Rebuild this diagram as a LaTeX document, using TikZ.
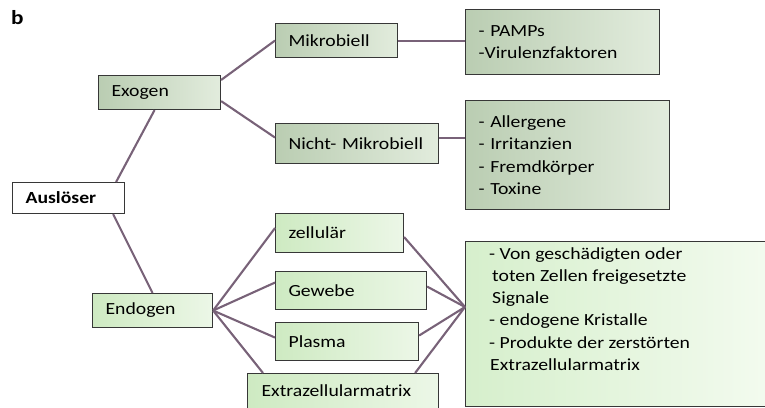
\documentclass[tikz,border=0pt]{standalone}
\usepackage{fontspec}
\setmainfont{Carlito}[FakeStretch=1.16]
\newcommand\bxfont{\fontsize{17}{22.3}\selectfont}
\definecolor{dkL}{RGB}{186,205,178}
\definecolor{dkR}{RGB}{226,236,221}
\definecolor{ltL}{RGB}{206,234,194}
\definecolor{ltR}{RGB}{236,247,231}
\definecolor{bigL}{RGB}{214,239,204}
\definecolor{bigR}{RGB}{243,251,239}
\definecolor{boxline}{RGB}{55,55,55}
\definecolor{conncol}{RGB}{120,98,120}
\begin{document}
\begin{tikzpicture}[x=1pt,y=-1pt]
\useasboundingbox (0,0) rectangle (765,407);
\tikzset{
  base/.style={draw=boxline, line width=1.1pt, anchor=north west, inner xsep=13pt, inner ysep=0pt, align=left, font=\bxfont},
  dark/.style={base, left color=dkL, right color=dkR},
  light/.style={base, left color=ltL, right color=ltR},
  conn/.style={draw=conncol, line width=2.1pt},
}
\node[font=\fontsize{20}{20}\selectfont\bfseries, anchor=north west, inner sep=0pt] (lbl) at (11,10) {b};
% top group
\node[dark, text width=96pt, minimum height=34pt] (exo) at (98,75) {Exogen};
\node[dark, text width=96pt, minimum height=34pt] (mik) at (275,23) {Mikrobiell};
\node[dark, text width=137pt, minimum height=40pt] (nicht) at (275,123) {Nicht- Mikrobiell};
\node[dark, text width=168pt, minimum height=65pt] (pamps) at (465,9) {- PAMPs\\-Virulenzfaktoren};
\node[dark, text width=178pt, minimum height=109pt] (allerg) at (465,100) {- Allergene\\- Irritanzien\\- Fremdkörper\\- Toxine};
% root
\node[base, fill=white, text width=86pt, minimum height=31pt, font=\bxfont\bfseries] (aus) at (12,182) {Auslöser};
% bottom group
\node[light, text width=94pt, minimum height=34pt] (endo) at (92,293) {Endogen};
\node[light, text width=102pt, minimum height=39pt] (zell) at (275,213) {zellulär};
\node[light, text width=125pt, minimum height=38pt] (gew) at (275,271) {Gewebe};
\node[light, text width=117pt, minimum height=38pt] (plas) at (275,322) {Plasma};
\node[light, text width=163pt, minimum height=40pt, inner xsep=14pt, text depth=6pt] (extra) at (247,373) {Extrazellularmatrix};
\node[draw=boxline, line width=1.1pt, anchor=north west, left color=bigL, right color=bigR, minimum width=305pt, minimum height=165pt, inner sep=0pt] (big) at (465,241) {};
\node[anchor=north west, inner sep=0pt, align=left, font=\bxfont] (bigtext) at (489,247)
  {- Von geschädigten oder\\\hspace*{3pt}toten Zellen freigesetzte\\\hspace*{3pt}Signale\\- endogene Kristalle\\- Produkte der zerstörten\\\hspace*{1pt}Extrazellularmatrix};
% connectors
\draw[conn] ([xshift=-9pt]aus.north east) -- ([xshift=-5pt]exo.south);
\draw[conn] ([xshift=-12pt]aus.south east) -- (endo.north);
\draw[conn] ([yshift=-5pt]exo.north east) -- (mik.west);
\draw[conn] ([yshift=9pt]exo.south east) -- ([yshift=6pt]nicht.west);
\draw[conn] (mik.east) -- (mik.east -| pamps.west);
\draw[conn] ([yshift=6pt]nicht.east) -- ([yshift=6pt]nicht.east -| allerg.west);
\draw[conn] (endo.east) -- ([yshift=5pt]zell.west);
\draw[conn] (endo.east) -- ([yshift=8pt]gew.west);
\draw[conn] (endo.east) -- ([yshift=4pt]plas.west);
\draw[conn] (endo.east) -- ([xshift=16pt]extra.north west);
\coordinate (hub) at ([yshift=-66pt]big.north west);
\draw[conn] ([yshift=-4pt]zell.east) -- (hub);
\draw[conn] ([yshift=4pt]gew.east) -- (hub);
\draw[conn] ([yshift=6pt]plas.east) -- (hub);
\draw[conn] ([xshift=-24pt]extra.north east) -- (hub);
\end{tikzpicture}
\end{document}
